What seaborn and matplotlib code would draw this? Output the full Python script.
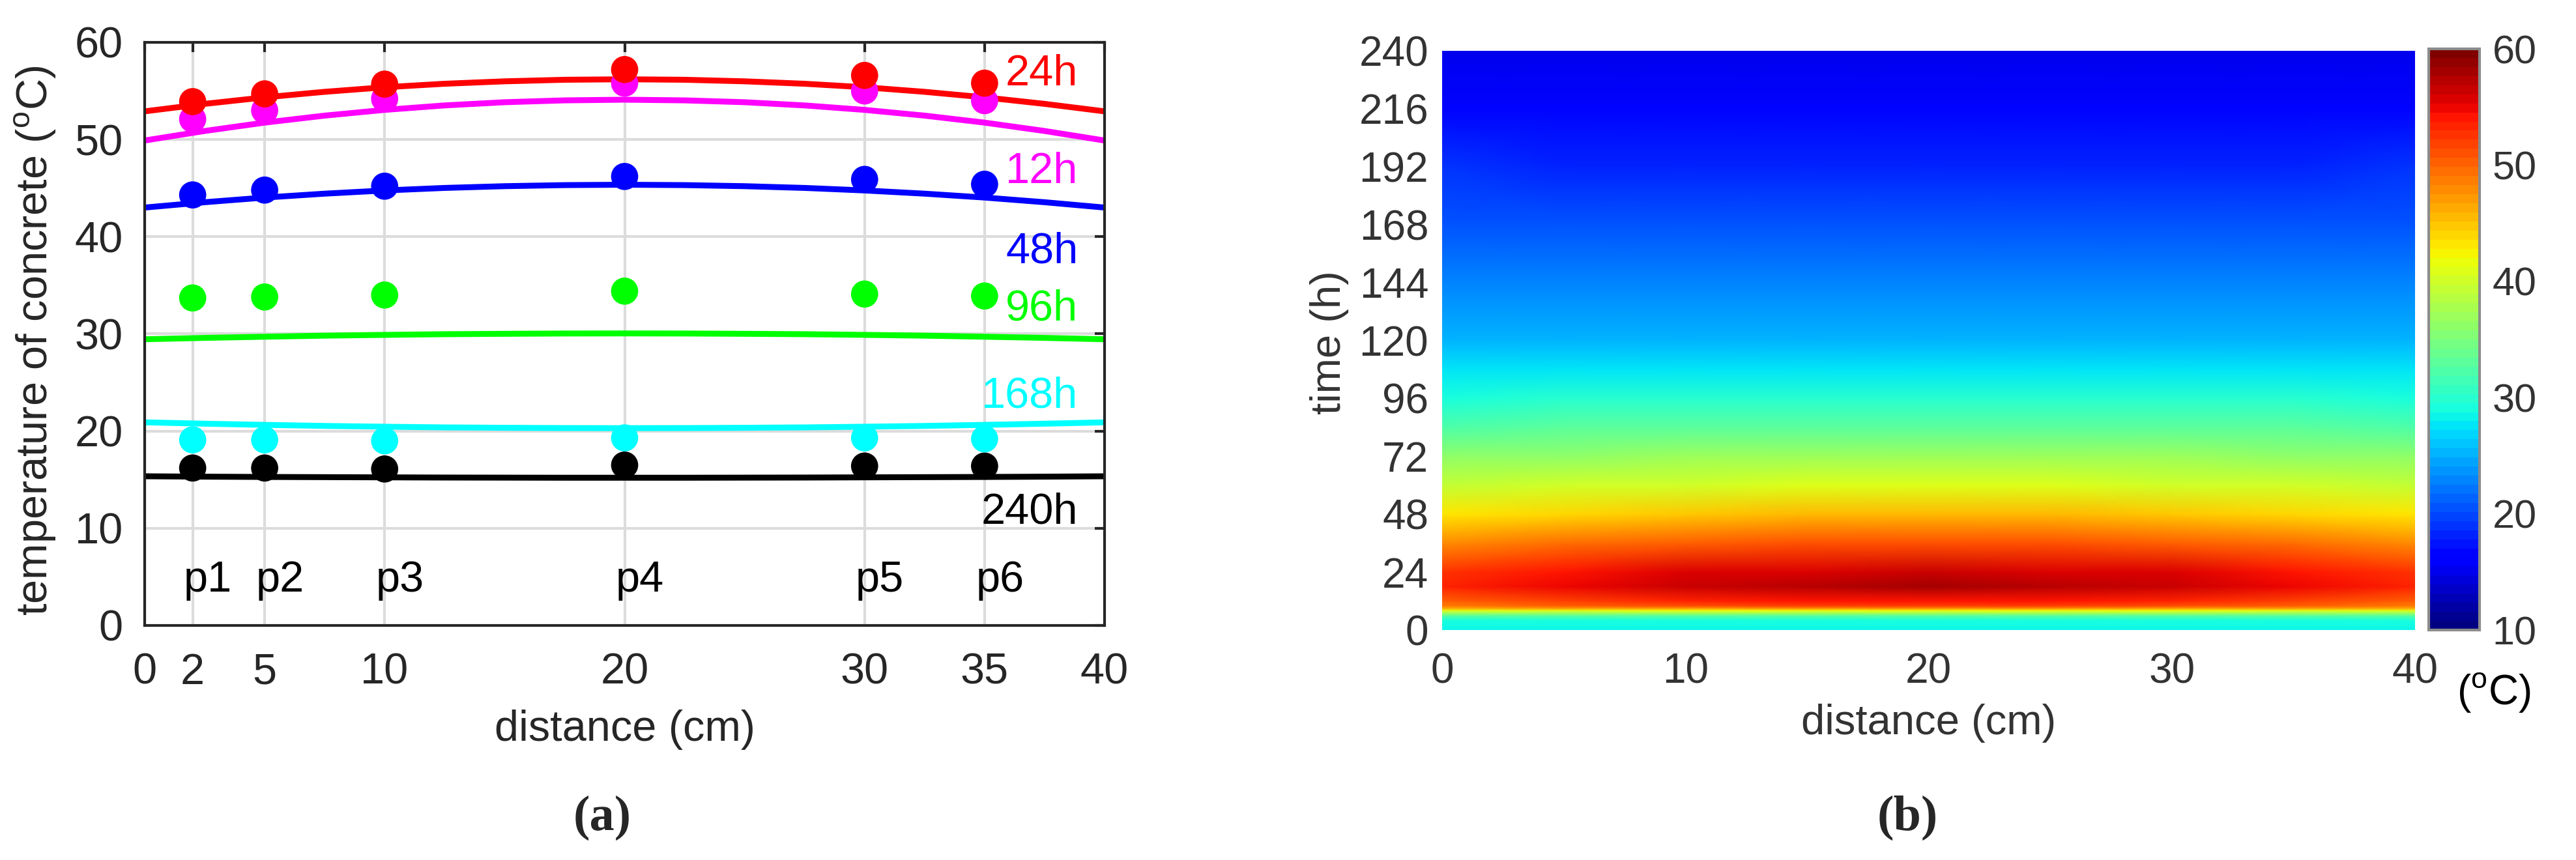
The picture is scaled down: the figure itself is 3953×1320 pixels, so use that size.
import numpy as np
import pandas as pd
import matplotlib
matplotlib.use('Agg')
import matplotlib.pyplot as plt
import seaborn as sns

sns.set_style('white')
plt.rcParams['font.family'] = ['Liberation Sans', 'DejaVu Sans']
plt.rcParams['mathtext.fontset'] = 'custom'
plt.rcParams['mathtext.rm'] = 'Liberation Sans'

# ---- data (a): measured points at the probes and simulated profiles ----
probe_dist = [2, 5, 10, 20, 30, 35]
probe_names = ['p1', 'p2', 'p3', 'p4', 'p5', 'p6']
ages = ['240h', '168h', '96h', '48h', '12h', '24h']

meas_12h = [52.1, 53.0, 54.2, 55.8, 55.0, 54.0]
meas_24h = [53.9, 54.7, 55.7, 57.2, 56.6, 55.8]
meas_48h = [44.3, 44.8, 45.2, 46.2, 45.9, 45.4]
meas_96h = [33.7, 33.8, 34.0, 34.4, 34.1, 33.9]
meas_168h = [19.1, 19.1, 19.0, 19.3, 19.3, 19.2]
meas_240h = [16.2, 16.2, 16.1, 16.5, 16.4, 16.4]

line_dist = [0, 2.5, 5, 7.5, 10, 12.5, 15, 17.5, 20,
             22.5, 25, 27.5, 30, 32.5, 35, 37.5, 40]
sim_12h = [49.9, 50.88, 51.74, 52.46, 53.05, 53.51, 53.84, 54.03, 54.1,
           54.03, 53.84, 53.51, 53.05, 52.46, 51.74, 50.88, 49.9]
sim_24h = [52.9, 53.67, 54.34, 54.91, 55.38, 55.74, 55.99, 56.15, 56.2,
           56.15, 55.99, 55.74, 55.38, 54.91, 54.34, 53.67, 52.9]
sim_48h = [43.0, 43.55, 44.03, 44.43, 44.76, 45.02, 45.2, 45.31, 45.35,
           45.31, 45.2, 45.02, 44.76, 44.43, 44.03, 43.55, 43.0]
sim_96h = [29.45, 29.59, 29.71, 29.82, 29.9, 29.97, 30.01, 30.04, 30.05,
           30.04, 30.01, 29.97, 29.9, 29.82, 29.71, 29.59, 29.45]
sim_168h = [20.9, 20.76, 20.64, 20.53, 20.45, 20.38, 20.34, 20.31, 20.3,
            20.31, 20.34, 20.38, 20.45, 20.53, 20.64, 20.76, 20.9]
sim_240h = [15.35, 15.31, 15.28, 15.26, 15.24, 15.22, 15.21, 15.2, 15.2,
            15.2, 15.21, 15.22, 15.24, 15.26, 15.28, 15.31, 15.35]

age_colors = {'12h': '#ff00ff', '24h': '#ff0000', '48h': '#0000ff',
              '96h': '#00ff00', '168h': '#00ffff', '240h': '#000000'}

# ---- data (b): temperature field, time (h) x distance (cm) ----
heat_dist = [0, 5, 10, 15, 20, 25, 30, 35, 40]
heat_time = [0, 4, 6, 8, 9, 10, 12, 18, 24, 36, 48, 60, 72, 84, 96,
             108, 120, 144, 168, 192, 216, 240]
heat_temp = [
    [28.7, 28.7, 28.7, 28.7, 28.7, 28.7, 28.7, 28.7, 28.7],
    [29.0, 29.0, 29.0, 29.0, 29.0, 29.0, 29.0, 29.0, 29.0],
    [33.0, 33.0, 33.1, 33.1, 33.1, 33.1, 33.1, 33.0, 33.0],
    [40.5, 41.0, 41.3, 41.5, 41.5, 41.5, 41.3, 41.0, 40.5],
    [46.0, 46.8, 47.3, 47.6, 47.7, 47.6, 47.3, 46.8, 46.0],
    [49.0, 50.3, 51.2, 51.7, 51.9, 51.7, 51.2, 50.3, 49.0],
    [49.9, 51.6, 53.1, 53.9, 54.1, 53.9, 53.1, 51.6, 49.9],
    [53.2, 55.2, 56.6, 57.4, 57.7, 57.4, 56.6, 55.2, 53.2],
    [52.9, 54.4, 55.5, 56.0, 56.2, 56.0, 55.5, 54.4, 52.9],
    [47.8, 49.3, 50.4, 51.0, 51.2, 51.0, 50.4, 49.3, 47.8],
    [43.0, 44.0, 44.8, 45.2, 45.35, 45.2, 44.8, 44.0, 43.0],
    [39.2, 39.9, 40.4, 40.7, 40.8, 40.7, 40.4, 39.9, 39.2],
    [35.8, 36.3, 36.7, 36.9, 37.0, 36.9, 36.7, 36.3, 35.8],
    [32.5, 32.8, 33.0, 33.2, 33.2, 33.2, 33.0, 32.8, 32.5],
    [29.45, 29.75, 29.9, 30.0, 30.05, 30.0, 29.9, 29.75, 29.45],
    [27.4, 27.5, 27.6, 27.6, 27.6, 27.6, 27.6, 27.5, 27.4],
    [25.6, 25.5, 25.5, 25.4, 25.4, 25.4, 25.5, 25.5, 25.6],
    [23.0, 22.8, 22.7, 22.6, 22.6, 22.6, 22.7, 22.8, 23.0],
    [20.9, 20.65, 20.5, 20.35, 20.3, 20.35, 20.5, 20.65, 20.9],
    [18.6, 18.3, 18.1, 18.0, 17.9, 18.0, 18.1, 18.3, 18.6],
    [16.7, 16.5, 16.4, 16.3, 16.3, 16.3, 16.4, 16.5, 16.7],
    [15.35, 15.28, 15.24, 15.21, 15.2, 15.21, 15.24, 15.28, 15.35],
]

meas = {'12h': meas_12h, '24h': meas_24h, '48h': meas_48h,
        '96h': meas_96h, '168h': meas_168h, '240h': meas_240h}
sims = {'12h': sim_12h, '24h': sim_24h, '48h': sim_48h,
        '96h': sim_96h, '168h': sim_168h, '240h': sim_240h}

meas_df = pd.concat([pd.DataFrame({'distance': probe_dist, 'temp': meas[a], 'age': a})
                     for a in ages], ignore_index=True)
sim_df = pd.concat([pd.DataFrame({'distance': line_dist, 'temp': sims[a], 'age': a})
                    for a in ages], ignore_index=True)

fig = plt.figure(figsize=(39.53, 13.2), dpi=100)
dark = '#262626'

# ---------------- (a) ----------------
ax1 = fig.add_axes([0.05616, 0.27273, 0.37263, 0.67803])
sns.lineplot(data=sim_df, x='distance', y='temp', hue='age', palette=age_colors,
             linewidth=6.5, legend=False, estimator=None, ax=ax1, zorder=2)
sns.scatterplot(data=meas_df, x='distance', y='temp', hue='age', palette=age_colors,
                s=900, edgecolor='none', legend=False, ax=ax1, zorder=3)

ax1.set_xlim(0, 40)
ax1.set_ylim(0, 60)
ax1.set_xticks([0, 2, 5, 10, 20, 30, 35, 40])
ax1.set_yticks(range(0, 61, 10))
ax1.grid(True, color='#dcdcdc', linewidth=3)
ax1.set_axisbelow(True)
for sp in ax1.spines.values():
    sp.set_color(dark)
    sp.set_linewidth(3)
ax1.tick_params(axis='both', direction='in', length=11, width=3, color=dark,
                labelcolor=dark, labelsize=48, top=True, right=True)
ax1.tick_params(axis='x', pad=30)
ax1.tick_params(axis='y', pad=24)

ax1.set_xlabel('distance (cm)', fontsize=48, color=dark)
ax1.xaxis.set_label_coords(0.5, -0.179)
ax1.xaxis.label.set_verticalalignment('center')
ax1.set_ylabel(r'temperature of concrete ($^{\rm o}$C)', fontsize=48, color=dark)
ax1.yaxis.set_label_coords(-0.114, 0.489)
ax1.yaxis.label.set_verticalalignment('center')

label_y = {'24h': 55.6, '12h': 45.5, '48h': 37.3, '96h': 31.4, '168h': 22.4, '240h': 10.5}
for a, yy in label_y.items():
    ax1.text(38.9, yy, a, color=age_colors[a], fontsize=48, ha='right', va='baseline')
for d, name in zip(probe_dist, probe_names):
    ax1.text(d - 0.37, 3.5, name, color='black', fontsize=48, ha='left', va='baseline')

# ---------------- (b) ----------------
jet64 = matplotlib.colormaps['jet'].resampled(64)
ax2 = fig.add_axes([0.55983, 0.26742, 0.37769, 0.67348])
gx, gy = np.meshgrid(heat_dist, heat_time)
mesh = ax2.pcolormesh(gx, gy, np.array(heat_temp), cmap=jet64, vmin=10, vmax=60,
                      shading='gouraud')
ax2.set_xlim(0, 40)
ax2.set_ylim(0, 240)
ax2.set_xticks(range(0, 41, 10))
ax2.set_yticks(range(0, 241, 24))
for sp in ax2.spines.values():
    sp.set_visible(False)
gray = '#333333'
ax2.tick_params(axis='both', length=0, labelsize=46, labelcolor=gray)
ax2.tick_params(axis='x', pad=25)
ax2.tick_params(axis='y', pad=15)
ax2.set_xlabel('distance (cm)', fontsize=47, color=gray)
ax2.xaxis.set_label_coords(0.5, -0.161)
ax2.xaxis.label.set_verticalalignment('center')
ax2.set_ylabel('time (h)', fontsize=47, color=gray)
ax2.yaxis.set_label_coords(-0.116, 0.497)
ax2.yaxis.label.set_verticalalignment('center')

cax = fig.add_axes([0.94283, 0.26742, 0.01973, 0.67576])
cbar = fig.colorbar(mesh, cax=cax, ticks=range(10, 61, 10))
cbar.outline.set_edgecolor('#8c8c8c')
cbar.outline.set_linewidth(3)
cbar.ax.tick_params(direction='in', length=6, width=2, color=gray,
                    labelsize=44, labelcolor=gray, pad=14)
fig.text(0.9681, 0.1947, r'($^{\rm o}$C)', fontsize=46, color='black',
         ha='center', va='center')

# captions
for xc, cap in [(0.2337, '(a)'), (0.7405, '(b)')]:
    fig.text(xc, 0.0492, cap, fontsize=55, fontweight='bold',
             family=['Liberation Serif', 'DejaVu Serif'], ha='center', va='center')

fig.savefig('out.png', dpi=100, facecolor='white')
